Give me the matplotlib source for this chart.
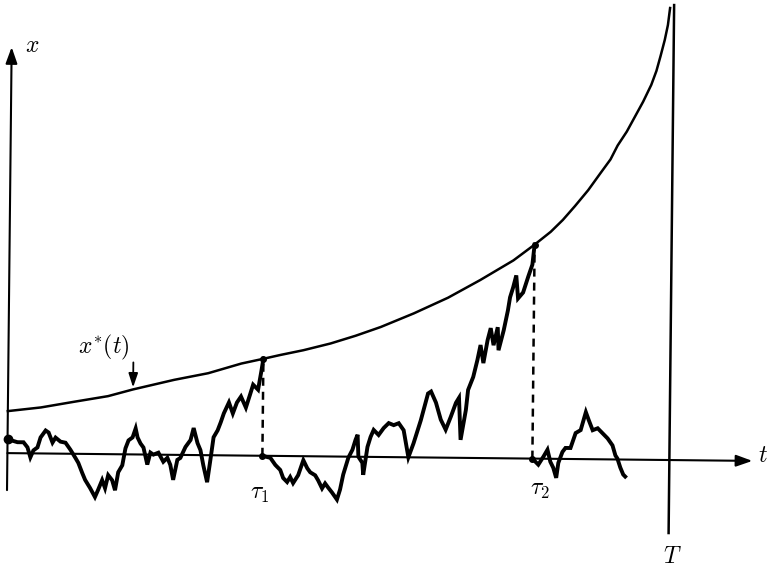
import matplotlib.pyplot as plt
from matplotlib.transforms import Affine2D

plt.rcParams["mathtext.fontset"] = "cm"

# reflected path: start -> first hit of the boundary
t_path1 = [0.00, 0.03, 0.10, 0.16, 0.20, 0.23, 0.26, 0.30, 0.33, 0.38,
           0.41, 0.45, 0.48, 0.53, 0.58, 0.63, 0.68, 0.71, 0.75, 0.78,
           0.83, 0.88, 0.91, 0.95, 0.98, 1.01, 1.05, 1.08, 1.11, 1.15,
           1.18, 1.21, 1.25, 1.28, 1.30, 1.33, 1.36, 1.40, 1.43, 1.46,
           1.51, 1.56, 1.60, 1.63, 1.66, 1.70, 1.73, 1.78, 1.83, 1.86,
           1.90, 1.93, 1.96, 2.00, 2.03, 2.06, 2.10, 2.13, 2.16, 2.21,
           2.25, 2.29, 2.33, 2.38, 2.42, 2.45, 2.50, 2.53, 2.55]
x_path1 = [0.14, 0.13, 0.11, 0.11, 0.06, -0.04, 0.03, 0.06, 0.16, 0.23,
           0.21, 0.11, 0.16, 0.12, 0.11, 0.04, -0.04, -0.09, -0.19, -0.26,
           -0.34, -0.43, -0.36, -0.26, -0.34, -0.21, -0.26, -0.36, -0.18, -0.11,
           0.06, 0.14, 0.17, 0.26, 0.17, 0.11, 0.07, -0.10, 0.02, 0.00,
           0.02, -0.07, -0.03, -0.10, -0.25, -0.05, -0.03, 0.08, 0.15, 0.27,
           0.12, 0.05, -0.10, -0.27, -0.05, 0.18, 0.25, 0.33, 0.42, 0.53,
           0.42, 0.53, 0.59, 0.48, 0.61, 0.71, 0.66, 0.84, 0.97]

# tau1 -> tau2
t_path2 = [2.55, 2.63, 2.68, 2.73, 2.76, 2.80, 2.83, 2.86, 2.91, 2.96,
           3.00, 3.03, 3.08, 3.11, 3.15, 3.18, 3.21, 3.25, 3.30, 3.33,
           3.36, 3.41, 3.45, 3.48, 3.50, 3.51, 3.55, 3.56, 3.60, 3.63,
           3.66, 3.71, 3.76, 3.81, 3.86, 3.91, 3.96, 4.01, 4.06, 4.13,
           4.20, 4.23, 4.28, 4.33, 4.38, 4.43, 4.48, 4.51, 4.53, 4.58,
           4.60, 4.65, 4.69, 4.72, 4.75, 4.79, 4.82, 4.85, 4.89, 4.90,
           4.95, 4.99, 5.01, 5.04, 5.07, 5.09, 5.14, 5.19, 5.23, 5.25]
x_path2 = [0.00, -0.02, -0.09, -0.14, -0.22, -0.26, -0.21, -0.27, -0.19, -0.04,
           -0.12, -0.16, -0.19, -0.24, -0.32, -0.27, -0.31, -0.36, -0.43, -0.33,
           -0.18, -0.01, 0.07, 0.17, 0.22, 0.00, -0.06, -0.18, 0.10, 0.20,
           0.27, 0.22, 0.29, 0.34, 0.32, 0.34, 0.27, 0.00, 0.14, 0.37,
           0.64, 0.66, 0.55, 0.38, 0.28, 0.41, 0.55, 0.60, 0.18, 0.48,
           0.68, 0.81, 0.98, 1.13, 0.95, 1.18, 1.30, 1.13, 1.31, 1.08,
           1.28, 1.48, 1.61, 1.71, 1.83, 1.60, 1.66, 1.82, 1.94, 2.14]

# after tau2
t_path3 = [5.25, 5.31, 5.36, 5.40, 5.43, 5.46, 5.49, 5.51, 5.55, 5.58,
           5.63, 5.68, 5.73, 5.78, 5.81, 5.85, 5.90, 5.95, 6.00, 6.05,
           6.08, 6.10, 6.13, 6.16, 6.18]
x_path3 = [0.00, -0.06, 0.02, 0.09, -0.03, -0.09, -0.19, -0.04, 0.07, 0.11,
           0.11, 0.26, 0.29, 0.47, 0.39, 0.29, 0.31, 0.26, 0.21, 0.14,
           0.04, 0.01, -0.08, -0.15, -0.17]

# boundary x*(t)
t_bound = [0.00, 0.33, 0.66, 1.00, 1.25, 1.66, 2.00, 2.33, 2.55, 2.72,
           2.95, 3.22, 3.47, 3.72, 4.05, 4.39, 4.71, 5.04, 5.25, 5.41,
           5.53, 5.65, 5.78, 5.90, 6.00, 6.07, 6.16, 6.24, 6.32, 6.40,
           6.45, 6.49, 6.53, 6.56, 6.58]
x_bound = [0.42, 0.46, 0.52, 0.58, 0.65, 0.75, 0.82, 0.92, 0.97, 1.01,
           1.06, 1.13, 1.21, 1.30, 1.44, 1.60, 1.78, 1.98, 2.14, 2.27,
           2.39, 2.53, 2.69, 2.86, 3.00, 3.14, 3.28, 3.43, 3.58, 3.75,
           3.89, 4.04, 4.20, 4.35, 4.52]

tau1, tau2 = 2.55, 5.25
hit1, hit2 = 0.97, 2.14
T = 6.62
t_axis_end = 7.45
x_axis_top, x_axis_bottom = 4.06, -0.37
T_bottom, T_top = -0.73, 4.55
arrow_t, arrow_from, arrow_to = 1.25, 0.92, 0.67

fig = plt.figure(figsize=(7.67, 5.69), dpi=100)
ax = fig.add_axes([0, 0, 1, 1])
ax.set_xlim(-0.074, 7.596)
ax.set_ylim(-1.159, 4.531)
ax.axis("off")

# the scanned figure is tilted slightly clockwise
ox, oy = ax.transData.transform((0, 0))
tr = ax.transData + Affine2D().rotate_deg_around(ox, oy, -0.6)

k = "black"
axis_arrow = dict(arrowstyle="-|>,head_length=0.7,head_width=0.25",
                  lw=1.5, color=k, shrinkA=0, shrinkB=0, mutation_scale=14)
ax.annotate("", xy=(t_axis_end, 0), xytext=(0, 0),
            xycoords=tr, textcoords=tr, arrowprops=axis_arrow)
ax.annotate("", xy=(0, x_axis_top), xytext=(0, x_axis_bottom),
            xycoords=tr, textcoords=tr, arrowprops=axis_arrow)
ax.plot([T, T], [T_bottom, T_top], color=k, lw=1.8, transform=tr)

ax.plot(t_bound, x_bound, color=k, lw=1.8, transform=tr)

for tp, xp in [(t_path1, x_path1), (t_path2, x_path2), (t_path3, x_path3)]:
    ax.plot(tp, xp, color=k, lw=2.8, solid_joinstyle="miter", transform=tr)

for tau, hit in [(tau1, hit1), (tau2, hit2)]:
    ax.plot([tau, tau], [0, hit], color=k, lw=1.8, ls=(0, (3.2, 2.4)),
            transform=tr)
    ax.plot([tau, tau], [hit, 0], "o", color=k, ms=4, transform=tr)
ax.plot(t_path1[0], x_path1[0], "o", color=k, ms=6, transform=tr)

ax.annotate("", xy=(arrow_t, arrow_to), xytext=(arrow_t, arrow_from),
            xycoords=tr, textcoords=tr,
            arrowprops=dict(arrowstyle="-|>,head_length=0.6,head_width=0.2",
                            lw=1.3, color=k, shrinkA=0, shrinkB=0,
                            mutation_scale=14))

fs = 17
ax.text(0.21, 4.08, r"$x$", fontsize=fs, ha="center", va="center", transform=tr)
ax.text(7.56, 0.06, r"$t$", fontsize=fs, ha="center", va="center", transform=tr)
ax.text(6.66, -0.96, r"$T$", fontsize=fs, ha="center", va="center", transform=tr)
ax.text(0.95, 1.07, r"$x^{*}(t)$", fontsize=fs, ha="center", va="center",
        transform=tr)
ax.text(tau1 - 0.02, -0.37, r"$\tau_1$", fontsize=fs, ha="center", va="center",
        transform=tr)
ax.text(tau2 + 0.08, -0.30, r"$\tau_2$", fontsize=fs, ha="center", va="center",
        transform=tr)

fig.savefig("out.png", dpi=100)
